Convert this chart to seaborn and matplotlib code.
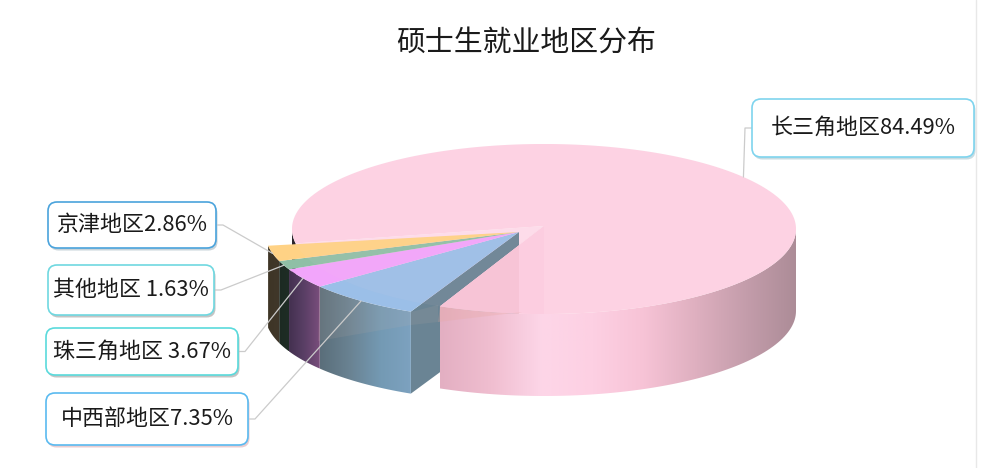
import numpy as np
import matplotlib
matplotlib.use('Agg')
import matplotlib.pyplot as plt
from matplotlib.patches import Ellipse, FancyBboxPatch, Polygon, Rectangle
import seaborn as sns

# values, big slice first, then clockwise
regions = ['长三角地区', '中西部地区', '珠三角地区', '其他地区', '京津地区']
shares = [84.49, 7.35, 3.67, 1.63, 2.86]
separators = ['', '', ' ', ' ', '']
title_text = '硕士生就业地区分布'

top_colors = ['#FDD2E3', '#9BBFE8', '#F2A5FB', '#8FBFA6', '#FFD285']
wall_stops = [
    ['#E3AFC2', '#F0BED0', '#FDD6E8', '#FDD0E3', '#F7C3D6', '#DFB0C0', '#C49DAB', '#AC8C97'],
    ['#5A6E7A', '#6A8393', '#749AB4', '#7DA2C0'],
    ['#43304F', '#5A3F66', '#7A4E7C'],
    ['#1C2A22', '#1E2D25'],
    ['#3E3526', '#40372A'],
]
box_edges = ['#7FD4EE', '#5ABAF0', '#5ADADC', '#6FD8E0', '#4AA3DC']
shadow_colors = ['#C8DCE2', '#EACDD0', '#C4C4C4', '#C4C4C4', '#C8D4DA']
# x0, y0, x1, y1 in pixels
box_rects = [(752, 99, 974, 157), (46, 393, 248, 445), (46, 328, 238, 375),
             (48, 265, 214, 315), (48, 202, 216, 248)]

# pie geometry in pixels
CX, CY = 544, 229
APEX_Y = 226
RX, RY = 252, 85
DEPTH = 82
START = 114.4
# the pulled out slices
SX, SY = 519, 232
SRX, SRY = 254, 88
SMALL_START = 115.2


def rim(cx, cy, t0, t1, n=80, rx=RX, ry=RY):
    t = np.radians(np.linspace(t0, t1, n))
    return np.column_stack([cx + rx * np.cos(t), cy + ry * np.sin(t)])


def small_rim(t0, t1, n=80):
    return rim(SX, SY, t0, t1, n, SRX, SRY)


def wall_from_arc(arc):
    return np.vstack([arc, arc[::-1] + [0, DEPTH]])


def draw_gradient_wall(ax, pts, stops, zorder):
    cmap = sns.blend_palette(stops, n_colors=256, as_cmap=True)
    x0, x1 = pts[:, 0].min(), pts[:, 0].max()
    y0, y1 = pts[:, 1].min(), pts[:, 1].max()
    img = ax.imshow(np.linspace(0, 1, 256)[None, :], cmap=cmap, aspect='auto',
                    extent=(x0, x1, y1, y0), zorder=zorder, interpolation='bilinear')
    clip = Polygon(pts, closed=True, transform=ax.transData, fc='none', ec='none')
    ax.add_patch(clip)
    img.set_clip_path(clip)


sns.set_theme(style='white')
plt.rcParams['font.family'] = ['Noto Sans CJK SC', 'DejaVu Sans']

fig = plt.figure(figsize=(10.08, 4.68), dpi=100, facecolor='white')
ax = fig.add_axes([0, 0, 1, 1])
ax.set_axis_off()

sweeps = [s / 100 * 360 for s in shares]
small_edges = SMALL_START + np.concatenate([[0], np.cumsum(sweeps[1:])])
end_small = START + sum(sweeps[1:])
big_t0, big_t1 = end_small, START + 360

# pale floor of the gap the small slices were pulled out of
gap = np.vstack([[CX, APEX_Y], rim(CX, CY, START, end_small)])
ax.add_patch(Polygon(gap, closed=True, fc='#FEDDEB', ec='none', zorder=1))

# dark sliver of the big slice on the far left
ax.add_patch(Polygon(wall_from_arc(rim(CX, CY, end_small, 180)), closed=True,
                     fc='#2B262C', ec='none', zorder=1.5))

# small slices, pulled out towards the lower left
corner = small_rim(SMALL_START, SMALL_START, 1)[0]
inner = np.array([[SX, SY], corner, corner + [0, DEPTH], [SX, SY + DEPTH]])
ax.add_patch(Polygon(inner, closed=True, fc='#6A8494', ec='none', zorder=2))

for i in range(1, len(shares)):
    t0, t1 = small_edges[i - 1], small_edges[i]
    arc = small_rim(t0, t1)
    # colours run left to right, the arc runs right to left
    draw_gradient_wall(ax, wall_from_arc(arc), wall_stops[i], 3)
    wedge = np.vstack([[SX, SY], arc])
    ax.add_patch(Polygon(wedge, closed=True, fc=top_colors[i], ec='none', zorder=4))

# pale band laid over the blue wall
band = np.vstack([small_rim(SMALL_START, small_edges[1]), [[318, 341], [411, 325], [411, 312]]])
ax.add_patch(Polygon(band, closed=True, fc='#D8B8A8', ec='none', alpha=0.10, zorder=4.5))

# big slice
draw_gradient_wall(ax, wall_from_arc(rim(CX, CY, 0, START)), wall_stops[0], 5)
big = np.vstack([[CX, APEX_Y], rim(CX, CY, big_t0, big_t1, 200)])
ax.add_patch(Polygon(big, closed=True, fc=top_colors[0], ec='none', zorder=6))

# inner faces showing faintly through the big top
face_pts = np.vstack([[CX, APEX_Y], rim(CX, CY, 90, START)])
ax.add_patch(Polygon(face_pts, closed=True, fc='#FCCDE0', ec='none', zorder=6.1))
dark = Polygon(face_pts, closed=True, fc='#F7C4D6', ec='none', zorder=6.2)
ax.add_patch(dark)
dark.set_clip_path(Rectangle((0, 0), SX, 468, transform=ax.transData))

# same pale band carries on over the front of the big slice
band2 = np.vstack([rim(CX, CY, START, 96), [[522, 312], [438, 322]]])
ax.add_patch(Polygon(band2, closed=True, fc='#E8A8A0', ec='none', alpha=0.28, zorder=6.3))
band3 = np.array([[411, 325], [438, 322], [438, 305], [411, 312]])
ax.add_patch(Polygon(band3, closed=True, fc='#D8B8A8', ec='none', alpha=0.10, zorder=4.5))

# whole ellipse very faintly over the slices
ax.add_patch(Ellipse((CX, CY), 2 * RX, 2 * RY, fc='#FDD2E3', ec='none', alpha=0.06, zorder=6.5))

# leader lines go to the middle of each slice rim
for i, region in enumerate(regions):
    x0, y0, x1, y1 = box_rects[i]
    if i == 0:
        mid = (big_t0 + big_t1) / 2
        tip = rim(CX, CY, mid, mid, 1)[0]
        knee = (x0 - 7, (y0 + y1) / 2)
        start = (x0, knee[1])
    else:
        mid = (small_edges[i - 1] + small_edges[i]) / 2
        tip = small_rim(mid, mid, 1)[0]
        knee = (x1 + 7, (y0 + y1) / 2)
        start = (x1, knee[1])
    ax.plot([start[0], knee[0], tip[0]], [start[1], knee[1], tip[1]], color='#CBCBCB', lw=0.9, zorder=7)

    ax.add_patch(FancyBboxPatch((x0 + 1.5, y0 + 2.5), x1 - x0, y1 - y0, boxstyle='round,pad=0,rounding_size=9',
                                fc=shadow_colors[i], ec='none', zorder=8))
    ax.add_patch(FancyBboxPatch((x0, y0), x1 - x0, y1 - y0, boxstyle='round,pad=0,rounding_size=9',
                                fc='white', ec=box_edges[i], lw=1.2, zorder=9))
    label = f'{region}{separators[i]}{shares[i]:.2f}%'
    ax.text((x0 + x1) / 2, (y0 + y1) / 2, label, ha='center', va='center', fontsize=15.8,
            color='#1A1A1A', zorder=10)

ax.text(526, 43, title_text, ha='center', va='center', fontsize=20.8, color='#1A1A1A')

# thin page edge on the right
ax.axvline(976, color='#E8E8E8', lw=1)

ax.set_xlim(0, 1008)
ax.set_ylim(468, 0)
fig.savefig('out.png', dpi=100)
